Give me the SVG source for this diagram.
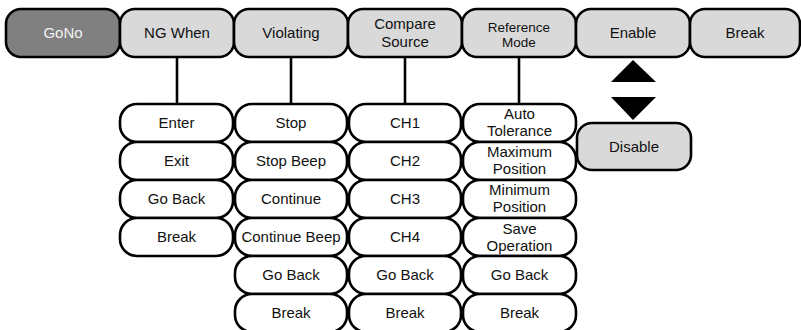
<svg xmlns="http://www.w3.org/2000/svg" width="801" height="330" viewBox="0 0 801 330">
<style>
rect{stroke:#000;stroke-width:2.6}
.top{fill:#d9d9d9}
.dark{fill:#808080}
.sub{fill:#fff}
text{font-family:"Liberation Sans",Arial,sans-serif;font-size:15px;fill:#111;text-anchor:middle}
.lt{fill:#f2f2f2}
.sm{font-size:13.5px}
.conn line{stroke:#000;stroke-width:2.6}
</style>
<g class="conn">
<line x1="177" y1="57" x2="177" y2="104"/>
<line x1="291" y1="57" x2="291" y2="104"/>
<line x1="405" y1="57" x2="405" y2="104"/>
<line x1="519" y1="57" x2="519" y2="104"/>
</g>
<g id="gono"><rect class="dark" x="6" y="9" width="114" height="48" rx="15"/><text class="lt" x="63" y="38">GoNo</text></g>
<g id="ngwhen"><rect class="top" x="120" y="9" width="114" height="48" rx="15"/><text x="177" y="38">NG When</text></g>
<g id="violating"><rect class="top" x="234" y="9" width="114" height="48" rx="15"/><text x="291" y="38">Violating</text></g>
<g id="compare"><rect class="top" x="348" y="9" width="114" height="48" rx="15"/><text x="405" y="29">Compare</text><text x="405" y="47">Source</text></g>
<g id="refmode"><rect class="top" x="462" y="9" width="114" height="48" rx="15"/><text class="sm" x="519" y="32">Reference</text><text class="sm" x="519" y="47.3">Mode</text></g>
<g id="enable"><rect class="top" x="576" y="9" width="114" height="48" rx="15"/><text x="633" y="38">Enable</text></g>
<g id="break-top"><rect class="top" x="690" y="9" width="110" height="48" rx="15"/><text x="745" y="38">Break</text></g>
<g id="arrows"><polygon points="633,60 656,82 611,82" fill="#000"/><polygon points="611,97 656,97 633,120" fill="#000"/></g>
<g id="disable"><rect class="top" x="577" y="123" width="114" height="47" rx="15"/><text x="634" y="152">Disable</text></g>

<g id="enter"><rect class="sub" x="120" y="104" width="113" height="38" rx="17"/><text x="176.5" y="128">Enter</text></g>
<g id="exit"><rect class="sub" x="120" y="142" width="113" height="38" rx="17"/><text x="176.5" y="166">Exit</text></g>
<g id="goback1"><rect class="sub" x="120" y="180" width="113" height="38" rx="17"/><text x="176.5" y="204">Go Back</text></g>
<g id="break1"><rect class="sub" x="120" y="218" width="113" height="38" rx="17"/><text x="176.5" y="242">Break</text></g>

<g id="stop"><rect class="sub" x="235" y="104" width="112" height="38" rx="17"/><text x="291" y="128">Stop</text></g>
<g id="stopbeep"><rect class="sub" x="235" y="142" width="112" height="38" rx="17"/><text x="291" y="166">Stop Beep</text></g>
<g id="continue"><rect class="sub" x="235" y="180" width="112" height="38" rx="17"/><text x="291" y="204">Continue</text></g>
<g id="contbeep"><rect class="sub" x="235" y="218" width="112" height="38" rx="17"/><text x="291" y="242">Continue Beep</text></g>
<g id="goback2"><rect class="sub" x="235" y="256" width="112" height="38" rx="17"/><text x="291" y="280">Go Back</text></g>
<g id="break2"><rect class="sub" x="235" y="294" width="112" height="38" rx="17"/><text x="291" y="318">Break</text></g>

<g id="ch1"><rect class="sub" x="349" y="104" width="112" height="38" rx="17"/><text x="405" y="128">CH1</text></g>
<g id="ch2"><rect class="sub" x="349" y="142" width="112" height="38" rx="17"/><text x="405" y="166">CH2</text></g>
<g id="ch3"><rect class="sub" x="349" y="180" width="112" height="38" rx="17"/><text x="405" y="204">CH3</text></g>
<g id="ch4"><rect class="sub" x="349" y="218" width="112" height="38" rx="17"/><text x="405" y="242">CH4</text></g>
<g id="goback3"><rect class="sub" x="349" y="256" width="112" height="38" rx="17"/><text x="405" y="280">Go Back</text></g>
<g id="break3"><rect class="sub" x="349" y="294" width="112" height="38" rx="17"/><text x="405" y="318">Break</text></g>

<g id="autotol"><rect class="sub" x="463" y="104" width="113" height="38" rx="17"/><text x="519.5" y="119">Auto</text><text x="519.5" y="136">Tolerance</text></g>
<g id="maxpos"><rect class="sub" x="463" y="142" width="113" height="38" rx="17"/><text x="519.5" y="157">Maximum</text><text x="519.5" y="174">Position</text></g>
<g id="minpos"><rect class="sub" x="463" y="180" width="113" height="38" rx="17"/><text x="519.5" y="195">Minimum</text><text x="519.5" y="212">Position</text></g>
<g id="saveop"><rect class="sub" x="463" y="218" width="113" height="38" rx="17"/><text x="519.5" y="234">Save</text><text x="519.5" y="251">Operation</text></g>
<g id="goback4"><rect class="sub" x="463" y="256" width="113" height="38" rx="17"/><text x="519.5" y="280">Go Back</text></g>
<g id="break4"><rect class="sub" x="463" y="294" width="113" height="38" rx="17"/><text x="519.5" y="318">Break</text></g>
</svg>
